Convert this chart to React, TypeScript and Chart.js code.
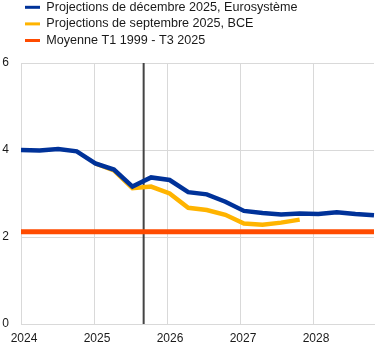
import React, { useEffect, useRef } from "react";
import { Chart, registerables } from "chart.js";

Chart.register(...registerables);

const quarters = [
  "T1 2024", "T2 2024", "T3 2024", "T4 2024",
  "T1 2025", "T2 2025", "T3 2025", "T4 2025",
  "T1 2026", "T2 2026", "T3 2026", "T4 2026",
  "T1 2027", "T2 2027", "T3 2027", "T4 2027",
  "T1 2028", "T2 2028", "T3 2028", "T4 2028",
];

const decemberProjections = [
  4.0, 3.99, 4.02, 3.97,
  3.69, 3.55, 3.16, 3.37,
  3.31, 3.03, 2.98, 2.81,
  2.6, 2.55, 2.52, 2.54,
  2.53, 2.57, 2.53, 2.5,
];

const septemberProjections = [
  null, null, null, null,
  3.69, 3.53, 3.12, 3.16,
  3.0, 2.67, 2.62, 2.51,
  2.31, 2.28, 2.33, 2.4,
  null, null, null, null,
];

const longRunAverageValue = 2.12;
const longRunAverage = quarters.map(() => longRunAverageValue);

const cutoffYear = 2025.68;
const yearTicks = [2024, 2025, 2026, 2027, 2028];
const yTicks = [0, 2, 4, 6];

const seriesLabels = [
  "Projections de décembre 2025, Eurosystème",
  "Projections de septembre 2025, BCE",
  "Moyenne T1 1999 - T3 2025",
];
const seriesColors = ["#003299", "#ffb400", "#ff4b00"];

const FONT = { family: '"Liberation Sans", Arial, sans-serif', size: 12 };
const LEGEND_FONT = { family: '"Liberation Sans", Arial, sans-serif', size: 12.6 };
const TEXT = "#1a1a1a";
const GRID = "#d9d9d9";

const legendSpacer = {
  id: "legendSpacer",
  beforeInit(chart: any) {
    const legend = chart.legend;
    if (!legend) return;
    const fit = legend.fit;
    legend.fit = function () {
      fit.call(this);
      this.height += 6.2;
    };
  },
  afterLayout(chart: any) {
    if (chart.legend) chart.legend.left = 21;
  },
};

export default function App() {
  const ref = useRef<HTMLCanvasElement | null>(null);

  useEffect(() => {
    if (!ref.current) return;
    const chart = new Chart(ref.current, {
      type: "line",
      data: {
        labels: quarters,
        datasets: [
          {
            label: seriesLabels[0],
            data: decemberProjections,
            borderColor: seriesColors[0],
            backgroundColor: seriesColors[0],
            borderWidth: 4.5,
            pointRadius: 0,
            xAxisID: "x",
            yAxisID: "y",
          },
          {
            label: seriesLabels[1],
            data: septemberProjections,
            borderColor: seriesColors[1],
            backgroundColor: seriesColors[1],
            borderWidth: 4.5,
            pointRadius: 0,
            xAxisID: "x",
            yAxisID: "y",
          },
          {
            label: seriesLabels[2],
            data: longRunAverage,
            borderColor: seriesColors[2],
            backgroundColor: seriesColors[2],
            borderWidth: 5,
            pointRadius: 0,
            xAxisID: "x",
            yAxisID: "y",
          },
          {
            label: "cutoff",
            data: [
              { x: cutoffYear, y: yTicks[0] },
              { x: cutoffYear, y: yTicks[yTicks.length - 1] },
            ],
            borderColor: "#444444",
            borderWidth: 2,
            pointRadius: 0,
            xAxisID: "years",
            yAxisID: "y",
          } as any,
        ],
      },
      options: {
        animation: false,
        responsive: false,
        layout: { padding: { top: -3, left: 0, right: 11, bottom: 0 } },
        plugins: {
          tooltip: { enabled: false },
          legend: {
            position: "top",
            align: "start",
            labels: {
              font: LEGEND_FONT,
              color: TEXT,
              boxWidth: 15,
              boxHeight: 3,
              padding: 4,
              generateLabels: () =>
                seriesLabels.map((text, i) => ({
                  text,
                  fillStyle: seriesColors[i],
                  strokeStyle: seriesColors[i],
                  lineWidth: 0,
                  hidden: false,
                  datasetIndex: i,
                  fontColor: TEXT,
                })),
            },
          },
        },
        scales: {
          x: {
            type: "category",
            display: false,
            offset: false,
          },
          years: {
            type: "linear",
            position: "bottom",
            min: 2024,
            max: 2028.835,
            afterBuildTicks: (s: any) => {
              s.ticks = yearTicks.map((v) => ({ value: v }));
            },
            afterFit: (s: any) => {
              s.height = 27;
            },
            ticks: {
              font: FONT,
              color: TEXT,
              padding: 7,
              labelOffset: 3,
              autoSkip: false,
              maxRotation: 0,
              callback: (v: any) => String(v),
            },
            grid: { color: GRID, lineWidth: 1, drawTicks: false },
            border: { color: GRID },
          },
          y: {
            type: "linear",
            min: 0,
            max: 6,
            afterBuildTicks: (s: any) => {
              s.ticks = yTicks.map((v) => ({ value: v }));
            },
            afterFit: (s: any) => {
              s.width = 21;
            },
            ticks: { font: FONT, color: TEXT, padding: 12 },
            grid: { color: GRID, lineWidth: 1, drawTicks: false },
            border: { color: GRID },
          },
        } as any,
      },
      plugins: [legendSpacer],
    });
    return () => chart.destroy();
  }, []);

  return (
    <div style={{ position: "absolute", left: 0, top: 0, width: 385, height: 351 }}>
      <canvas ref={ref} width={385} height={351} style={{ display: "block" }} />
    </div>
  );
}
